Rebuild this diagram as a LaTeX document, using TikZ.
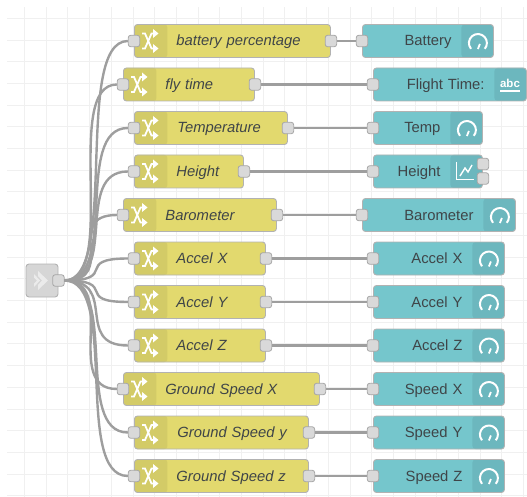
\documentclass[tikz,border=0pt]{standalone}
\usepackage{fontspec}
\setmainfont{Liberation Sans}
\definecolor{funcyellow}{HTML}{E2D96E}
\definecolor{funcband}{HTML}{D3CB67}
\definecolor{dashteal}{HTML}{75C6CC}
\definecolor{dashband}{HTML}{6CB7BE}
\definecolor{textgrey}{HTML}{3F4548}
\tikzset{
	funcnode/.style={rectangle, rounded corners=3pt, draw=black!30, line width=0.9pt, fill=funcyellow, text=textgrey, anchor=west, minimum height=33pt, inner xsep=0pt, inner ysep=0pt, align=left, text width=#1, text height=12pt, text depth=2pt, font=\fontsize{14.8}{16}\selectfont\itshape, path picture={\fill[funcband] (path picture bounding box.north west) rectangle ++(33,33);}},
	dashnode/.style={rectangle, rounded corners=3pt, draw=black!30, line width=0.9pt, fill=dashteal, text=textgrey, anchor=west, minimum height=33pt, inner xsep=0pt, inner ysep=0pt, align=right, text width=#1, text height=12pt, text depth=2pt, font=\fontsize{14.8}{16}\selectfont, path picture={\fill[dashband] ([xshift=-32pt]path picture bounding box.north east) rectangle (path picture bounding box.south east);}},
	port/.style={rectangle, rounded corners=2.5pt, draw=black!35, line width=0.8pt, fill=black!15, minimum width=11.5pt, minimum height=11.5pt, inner sep=0pt},
	wire/.style={draw=black!38, line width=2.4pt},
	gridline/.style={draw=black!6, line width=0.8pt},
	icon/.style={draw=white, line width=1.8pt},
	shuffle/.pic={
		\draw[icon] (-8,-7.5) -- (-5,-7.5) -- (1.5,7.5) -- (4,7.5);
		\draw[icon] (-8,7.5) -- (-5,7.5) -- (1.5,-7.5) -- (4,-7.5);
		\fill[white] (3,-12) -- (8.5,-7.5) -- (3,-3) -- cycle;
		\fill[white] (3,3) -- (8.5,7.5) -- (3,12) -- cycle;
	},
	gauge/.pic={
		\draw[icon, line width=2pt] (0,0) ++(140:9) arc[start angle=140, end angle=400, radius=9];
		\draw[icon] (0,6) -- (2,1);
	}
}

\begin{document}
\begin{tikzpicture}[x=1pt, y=-1pt]
	\useasboundingbox (0,0) rectangle (527,497);
	\foreach \gridx in {24.4,46.1,...,527}
		\draw[gridline] (\gridx,7) -- (\gridx,497);
	\foreach \gridy in {18.3,40,...,497}
		\draw[gridline] (7,\gridy) -- (527,\gridy);

	\node[rectangle, rounded corners=3pt, draw=black!30, line width=0.9pt, fill=black!16, minimum width=32pt, minimum height=33pt] (inject) at (42,280.5) {};
	\fill[white!92!black] (34,274) -- (40,280.5) -- (34,287) -- (34,283.5) -- (37,280.5) -- (34,277.5) -- cycle;
	\fill[white!92!black] (38,271) -- (48,280.5) -- (38,290) -- (38,285) -- (42,280.5) -- (38,276) -- cycle;
	\node[port] (injectout) at (inject.east) {};

	\node[funcnode=196pt] (fbattery) at (134,41) {\hspace*{42pt}battery percentage};
	\node[funcnode=131pt] (fflytime) at (123,84.5) {\hspace*{42pt}fly time};
	\node[funcnode=153pt] (ftemp) at (134,128) {\hspace*{43pt}Temperature};
	\node[funcnode=109pt] (fheight) at (134,171.5) {\hspace*{42pt}Height};
	\node[funcnode=153pt] (fbaro) at (123,215) {\hspace*{42pt}Barometer};
	\node[funcnode=131pt] (faccelx) at (134,258.5) {\hspace*{42pt}Accel X};
	\node[funcnode=131pt] (faccely) at (134,302) {\hspace*{42pt}Accel Y};
	\node[funcnode=131pt] (faccelz) at (134,345.5) {\hspace*{42pt}Accel Z};
	\node[funcnode=196pt] (fspeedx) at (123,389) {\hspace*{42pt}Ground Speed X};
	\node[funcnode=174pt] (fspeedy) at (134,432.5) {\hspace*{43pt}Ground Speed y};
	\node[funcnode=174pt] (fspeedz) at (134,476) {\hspace*{42pt}Ground Speed z};

	\node[dashnode=131pt] (dbattery) at (362,41) {Battery\hspace*{42pt}};
	\node[dashnode=153pt] (dflytime) at (373,84.5) {Flight Time:\hspace*{42pt}};
	\node[dashnode=109pt] (dtemp) at (373,128) {Temp\hspace*{42pt}};
	\node[dashnode=109pt] (dheight) at (373,171.5) {Height\hspace*{42pt}};
	\node[dashnode=153pt] (dbaro) at (362,215) {Barometer\hspace*{42pt}};
	\node[dashnode=131pt] (daccelx) at (373,258.5) {Accel X\hspace*{42pt}};
	\node[dashnode=131pt] (daccely) at (373,302) {Accel Y\hspace*{42pt}};
	\node[dashnode=131pt] (daccelz) at (373,345.5) {Accel Z\hspace*{42pt}};
	\node[dashnode=131pt] (dspeedx) at (373,389) {Speed X\hspace*{42pt}};
	\node[dashnode=131pt] (dspeedy) at (373,432.5) {Speed Y\hspace*{42pt}};
	\node[dashnode=131pt] (dspeedz) at (373,476) {Speed Z\hspace*{42pt}};

	\foreach \name in {fbattery,fflytime,ftemp,fheight,fbaro,faccelx,faccely,faccelz,fspeedx,fspeedy,fspeedz} {
		\node[port] (\name in) at (\name.west) {};
		\node[port] (\name out) at (\name.east) {};
		\pic at ([xshift=16pt]\name.west) {shuffle};
		\draw[wire] (injectout.east) .. controls +(55,0) and +(-55,0) .. (\name in.west);
	}
	\foreach \name/\from in {dbattery/fbattery,dflytime/fflytime,dtemp/ftemp,dheight/fheight,dbaro/fbaro,daccelx/faccelx,daccely/faccely,daccelz/faccelz,dspeedx/fspeedx,dspeedy/fspeedy,dspeedz/fspeedz} {
		\node[port] (\name in) at (\name.west) {};
		\draw[wire] (\from out.east) -- (\name in.west);
	}
	\foreach \name in {dbattery,dtemp,dbaro,daccelx,daccely,daccelz,dspeedx,dspeedy,dspeedz}
		\pic at ([xshift=-16pt,yshift=-2pt]\name.east) {gauge};

	\node[text=white, font=\fontsize{11.5}{12}\selectfont\bfseries, inner sep=0pt] (abc) at (510,83) {abc};
	\draw[icon, line width=1.3pt] (500,91) -- (520,91);

	\draw[icon, line width=1pt] (456,162) -- (456,180) -- (474,180);
	\draw[icon, line width=1.4pt] (460,176) -- (465,168) -- (468,172) -- (472,165);
	\node[port] (dheightouta) at ([yshift=-7pt]dheight.east) {};
	\node[port] (dheightoutb) at ([yshift=7.5pt]dheight.east) {};
\end{tikzpicture}
\end{document}
